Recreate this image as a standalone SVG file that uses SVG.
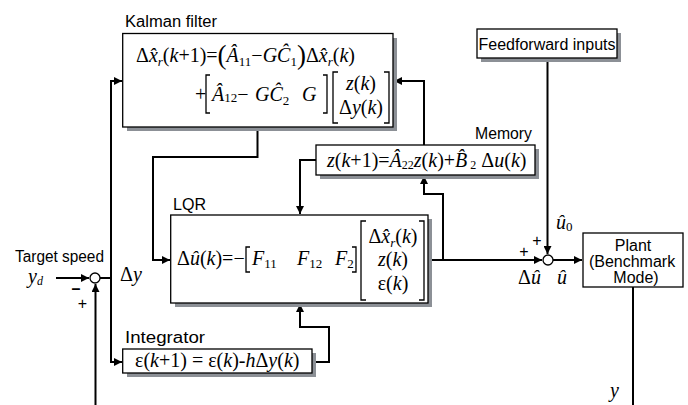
<svg xmlns="http://www.w3.org/2000/svg" width="688" height="405" viewBox="0 0 688 405">
<style>
.box{fill:#fff;stroke:#000;stroke-width:1.3}
.sh{fill:#8c9096}
.lbl{font-family:"Liberation Sans",Arial,sans-serif;font-size:16px;fill:#000}
.m{font-family:"Liberation Serif","Times New Roman",serif;font-size:20px;fill:#000}
.i{font-style:italic}
.c{fill:none;stroke:#000;stroke-width:2}
.br{fill:none;stroke:#000;stroke-width:1.3}
.sum{fill:#fff;stroke:#000;stroke-width:1.3}
</style>
<defs>
<marker id="ah" viewBox="0 0 10 10" refX="10" refY="5" markerWidth="4" markerHeight="4" orient="auto" markerUnits="strokeWidth">
<path d="M0,0 L10,5 L0,10 z" fill="#000"/>
</marker>
</defs>
<rect width="688" height="405" fill="#fff"/>

<g id="connectors">
<path class="c" d="M56,278 H89" marker-end="url(#ah)"/>
<path class="c" d="M95.5,405 V284" marker-end="url(#ah)"/>
<path class="c" d="M100,278 H111"/>
<path class="c" d="M111,81 V362"/>
<path class="c" d="M110,81 H122" marker-end="url(#ah)"/>
<path class="c" d="M110,362 H122" marker-end="url(#ah)"/>
<path class="c" d="M257.5,127 V157 H153 V260 H170" marker-end="url(#ah)"/>
<path class="c" d="M428,260 H542" marker-end="url(#ah)"/>
<path class="c" d="M443,260 V194 H424 V176" marker-end="url(#ah)"/>
<path class="c" d="M424,145 V81 H394" marker-end="url(#ah)"/>
<path class="c" d="M316,160 H300 V214" marker-end="url(#ah)"/>
<path class="c" d="M312,362 H329 V327 H300 V304" marker-end="url(#ah)"/>
<path class="c" d="M547.5,58 V254" marker-end="url(#ah)"/>
<path class="c" d="M553,260 H582" marker-end="url(#ah)"/>
<path class="c" d="M633,287 V405"/>
</g>

<g id="sum1">
<circle class="sum" cx="95" cy="278" r="5"/>
<text class="lbl" x="76" y="294" text-anchor="middle" font-weight="bold">–</text>
<text class="lbl" x="82.5" y="309" text-anchor="middle">+</text>
</g>
<g id="sum2">
<circle class="sum" cx="548" cy="260" r="5"/>
<text class="lbl" x="537" y="246" text-anchor="middle">+</text>
<text class="lbl" x="524" y="257" text-anchor="middle">+</text>
</g>

<g id="target">
<text class="lbl" x="15" y="262" textLength="89" lengthAdjust="spacingAndGlyphs">Target speed</text>
<text class="m i" x="28" y="283" font-size="19">y<tspan font-size="12" dy="2">d</tspan></text>
<text class="m" x="120" y="281">Δ<tspan class="i">y</tspan></text>
</g>

<g id="kalman">
<text class="lbl" x="125" y="27" font-size="16" textLength="92" lengthAdjust="spacingAndGlyphs">Kalman filter</text>
<rect class="sh" x="127" y="38" width="270" height="93"/>
<rect class="box" x="122.7" y="33.5" width="270.3" height="93.5"/>
<text class="m" x="136" y="62">Δ<tspan class="i">x̂</tspan><tspan class="i" font-size="13" dy="4">r</tspan><tspan dy="-4">(</tspan><tspan class="i">k</tspan>+1)=<tspan font-size="27" dy="2">(</tspan><tspan class="i" dy="-2">Â</tspan><tspan font-size="13" dy="4">11</tspan><tspan dy="-4">−</tspan><tspan class="i">GĈ</tspan><tspan font-size="13" dy="4">1</tspan><tspan font-size="27" dy="-2">)</tspan><tspan dy="-2">Δ</tspan><tspan class="i">x̂</tspan><tspan class="i" font-size="13" dy="4">r</tspan><tspan dy="-4">(</tspan><tspan class="i">k</tspan>)</text>
<text class="m" x="195" y="101">+</text>
<path class="br" d="M210,75 H206 V113 H210"/>
<text class="m" x="212" y="101"><tspan class="i">Â</tspan><tspan font-size="13" dy="1">12</tspan><tspan dy="-1">−</tspan></text>
<text class="m" x="255" y="101"><tspan class="i">GĈ</tspan><tspan font-size="13" dy="4">2</tspan></text>
<text class="m i" x="302" y="101">G</text>
<path class="br" d="M323,75 H327 V113 H323"/>
<path class="br" d="M338,72 H333 V123 H338"/>
<path class="br" d="M384,72 H389 V123 H384"/>
<text class="m" x="361" y="90" text-anchor="middle"><tspan class="i">z</tspan>(<tspan class="i">k</tspan>)</text>
<text class="m" x="361" y="114" text-anchor="middle">Δ<tspan class="i">y</tspan>(<tspan class="i">k</tspan>)</text>
</g>

<g id="memory">
<text class="lbl" x="475" y="139" font-size="16.5" textLength="57" lengthAdjust="spacingAndGlyphs">Memory</text>
<rect class="sh" x="320" y="149" width="219" height="30"/>
<rect class="box" x="316" y="145" width="219" height="30"/>
<text class="m" x="327" y="167" font-size="19"><tspan class="i">z</tspan>(<tspan class="i">k</tspan>+1)=<tspan class="i">Â</tspan><tspan font-size="12" dy="2">22</tspan><tspan class="i" dy="-2">z</tspan>(<tspan class="i">k</tspan>)+<tspan class="i">B̂</tspan><tspan font-size="12" dy="2"> 2</tspan><tspan dy="-2"> Δ</tspan><tspan class="i">u</tspan>(<tspan class="i">k</tspan>)</text>
</g>

<g id="lqr">
<text class="lbl" x="173" y="210" font-size="18" textLength="33" lengthAdjust="spacingAndGlyphs">LQR</text>
<rect class="sh" x="175" y="219" width="257" height="88"/>
<rect class="box" x="170.7" y="215" width="257.3" height="88"/>
<text class="m" x="177" y="265">Δ<tspan class="i">û</tspan>(<tspan class="i">k</tspan>)=−</text>
<path class="br" d="M250,247 H246 V272 H250"/>
<text class="m" x="252" y="265"><tspan class="i">F</tspan><tspan font-size="13" dy="3">11</tspan></text>
<text class="m" x="297" y="265"><tspan class="i">F</tspan><tspan font-size="13" dy="3">12</tspan></text>
<text class="m" x="335" y="265"><tspan class="i">F</tspan><tspan font-size="13" dy="3">2</tspan></text>
<path class="br" d="M352,247 H356 V272 H352"/>
<path class="br" d="M366,221 H361 V300 H366"/>
<path class="br" d="M419,221 H424 V300 H419"/>
<text class="m" x="393" y="243" text-anchor="middle">Δ<tspan class="i">x̂</tspan><tspan class="i" font-size="13" dy="4">r</tspan><tspan dy="-4">(</tspan><tspan class="i">k</tspan>)</text>
<text class="m" x="393" y="266" text-anchor="middle"><tspan class="i">z</tspan>(<tspan class="i">k</tspan>)</text>
<text class="m" x="393" y="290" text-anchor="middle">ε(<tspan class="i">k</tspan>)</text>
</g>

<g id="integrator">
<text class="lbl" x="125" y="343" font-size="18" textLength="80" lengthAdjust="spacingAndGlyphs">Integrator</text>
<rect class="sh" x="127" y="353" width="189" height="24"/>
<rect class="box" x="122.7" y="349" width="189.3" height="24"/>
<text class="m" x="135" y="367">ε(<tspan class="i">k</tspan>+1) = ε(<tspan class="i">k</tspan>)-<tspan class="i">h</tspan>Δ<tspan class="i">y</tspan>(<tspan class="i">k</tspan>)</text>
</g>

<g id="feedforward">
<rect class="sh" x="481" y="33" width="140" height="29"/>
<rect class="box" x="477" y="29" width="140" height="29"/>
<text class="lbl" x="547" y="50" font-size="15" text-anchor="middle">Feedforward inputs</text>
</g>

<g id="signals">
<text class="m i" x="556" y="229">û<tspan font-size="13" font-style="normal" dy="2">0</tspan></text>
<text class="m" x="518" y="284">Δ<tspan class="i">û</tspan></text>
<text class="m i" x="557" y="284">û</text>
<text class="m i" x="610" y="397">y</text>
</g>

<g id="plant">
<rect class="box" x="583" y="233" width="100" height="54"/>
<text class="lbl" x="633" y="251" font-size="15.5" text-anchor="middle">Plant</text>
<text class="lbl" x="632" y="267" font-size="15.5" text-anchor="middle">(Benchmark</text>
<text class="lbl" x="636" y="283" font-size="15.5" text-anchor="middle">Mode)</text>
</g>
</svg>
